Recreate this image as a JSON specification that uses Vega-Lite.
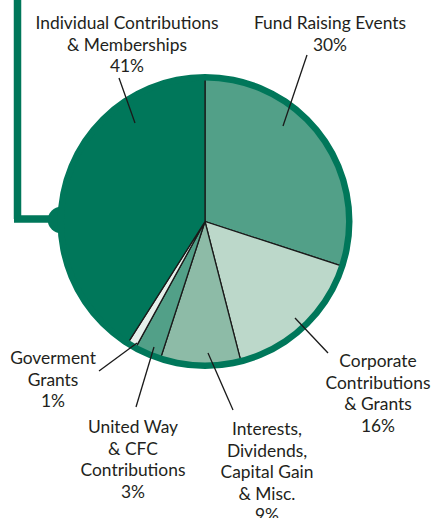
{
  "$schema": "https://vega.github.io/schema/vega-lite/v6.json",
  "width": 410,
  "height": 443,
  "autosize": {"type": "none"},
  "padding": {"left": 0, "top": 0, "right": 22, "bottom": 75},
  "background": "white",
  "config": {"view": {"stroke": null}},
  "datasets": {
    "slices": [
      {"cat": "Fund Raising Events", "value": 30, "ord": 1},
      {"cat": "Corporate Contributions & Grants", "value": 16, "ord": 2},
      {"cat": "Interests, Dividends, Capital Gain & Misc.", "value": 9, "ord": 3},
      {"cat": "United Way & CFC Contributions", "value": 3, "ord": 4},
      {"cat": "Goverment Grants", "value": 1, "ord": 5},
      {"cat": "Individual Contributions & Memberships", "value": 41, "ord": 6}
    ],
    "labels": [
      {"label": "Individual Contributions\n& Memberships\n41%", "x": 127, "y": 29},
      {"label": "Fund Raising Events\n30%", "x": 330, "y": 29},
      {"label": "Corporate\nContributions\n& Grants\n16%", "x": 378, "y": 367},
      {"label": "Interests,\nDividends,\nCapital Gain\n& Misc.\n9%", "x": 267, "y": 435},
      {"label": "United Way\n& CFC\nContributions\n3%", "x": 133, "y": 433},
      {"label": "Goverment\nGrants\n1%", "x": 53, "y": 364}
    ],
    "leaders": [
      {"x": 119, "y": 78, "x2": 135, "y2": 123},
      {"x": 307, "y": 55, "x2": 283, "y2": 126},
      {"x": 295, "y": 318, "x2": 328, "y2": 353},
      {"x": 208, "y": 353, "x2": 233, "y2": 410},
      {"x": 154, "y": 347, "x2": 136, "y2": 407},
      {"x": 137, "y": 343, "x2": 99, "y2": 371}
    ],
    "deco": [
      {"x": 17.5, "y": -5, "x2": 17.5, "y2": 219},
      {"x": 14, "y": 219, "x2": 61, "y2": 219}
    ],
    "knob": [
      {"x": 61, "y": 220}
    ]
  },
  "resolve": {"scale": {"theta": "independent"}},
  "layer": [
    {
      "data": {"name": "deco"},
      "mark": {"type": "rule", "color": "#00775A", "strokeWidth": 7.5},
      "encoding": {
        "x": {"field": "x", "type": "quantitative", "scale": {"domain": [0, 410], "nice": false, "zero": false}, "axis": null},
        "y": {"field": "y", "type": "quantitative", "scale": {"domain": [0, 443], "reverse": true, "nice": false, "zero": false}, "axis": null},
        "x2": {"field": "x2"},
        "y2": {"field": "y2"}
      }
    },
    {
      "data": {"name": "knob"},
      "mark": {"type": "point", "filled": true, "color": "#00775A", "opacity": 1, "size": 700, "shape": "circle"},
      "encoding": {
        "x": {"field": "x", "type": "quantitative", "axis": null},
        "y": {"field": "y", "type": "quantitative", "axis": null}
      }
    },
    {
      "data": {"name": "slices"},
      "mark": {"type": "arc", "outerRadius": 145, "stroke": "#1a1a1a", "strokeWidth": 1.3},
      "encoding": {
        "theta": {"field": "value", "type": "quantitative", "stack": true},
        "order": {"field": "ord", "type": "quantitative"},
        "color": {
          "field": "cat",
          "type": "nominal",
          "legend": null,
          "scale": {
            "domain": ["Fund Raising Events", "Corporate Contributions & Grants", "Interests, Dividends, Capital Gain & Misc.", "United Way & CFC Contributions", "Goverment Grants", "Individual Contributions & Memberships"],
            "range": ["#52A088", "#BCD8CA", "#8DBBA7", "#52A088", "#E6F0EB", "#00775A"]
          }
        }
      }
    },
    {
      "data": {"name": "slices"},
      "transform": [{"aggregate": [{"op": "sum", "field": "value", "as": "total"}]}],
      "mark": {"type": "arc", "innerRadius": 141, "outerRadius": 147.5, "color": "#00775A", "strokeWidth": 0},
      "encoding": {
        "theta": {"field": "total", "type": "quantitative", "stack": true}
      }
    },
    {
      "data": {"name": "leaders"},
      "mark": {"type": "rule", "color": "#1a1a1a", "strokeWidth": 1.3},
      "encoding": {
        "x": {"field": "x", "type": "quantitative", "axis": null},
        "y": {"field": "y", "type": "quantitative", "axis": null},
        "x2": {"field": "x2"},
        "y2": {"field": "y2"}
      }
    },
    {
      "data": {"name": "labels"},
      "mark": {"type": "text", "font": "Lato", "fontSize": 17.4, "lineHeight": 21.5, "lineBreak": "\n", "align": "center", "baseline": "alphabetic", "color": "#231F20"},
      "encoding": {
        "x": {"field": "x", "type": "quantitative", "axis": null},
        "y": {"field": "y", "type": "quantitative", "axis": null},
        "text": {"field": "label"}
      }
    }
  ]
}
